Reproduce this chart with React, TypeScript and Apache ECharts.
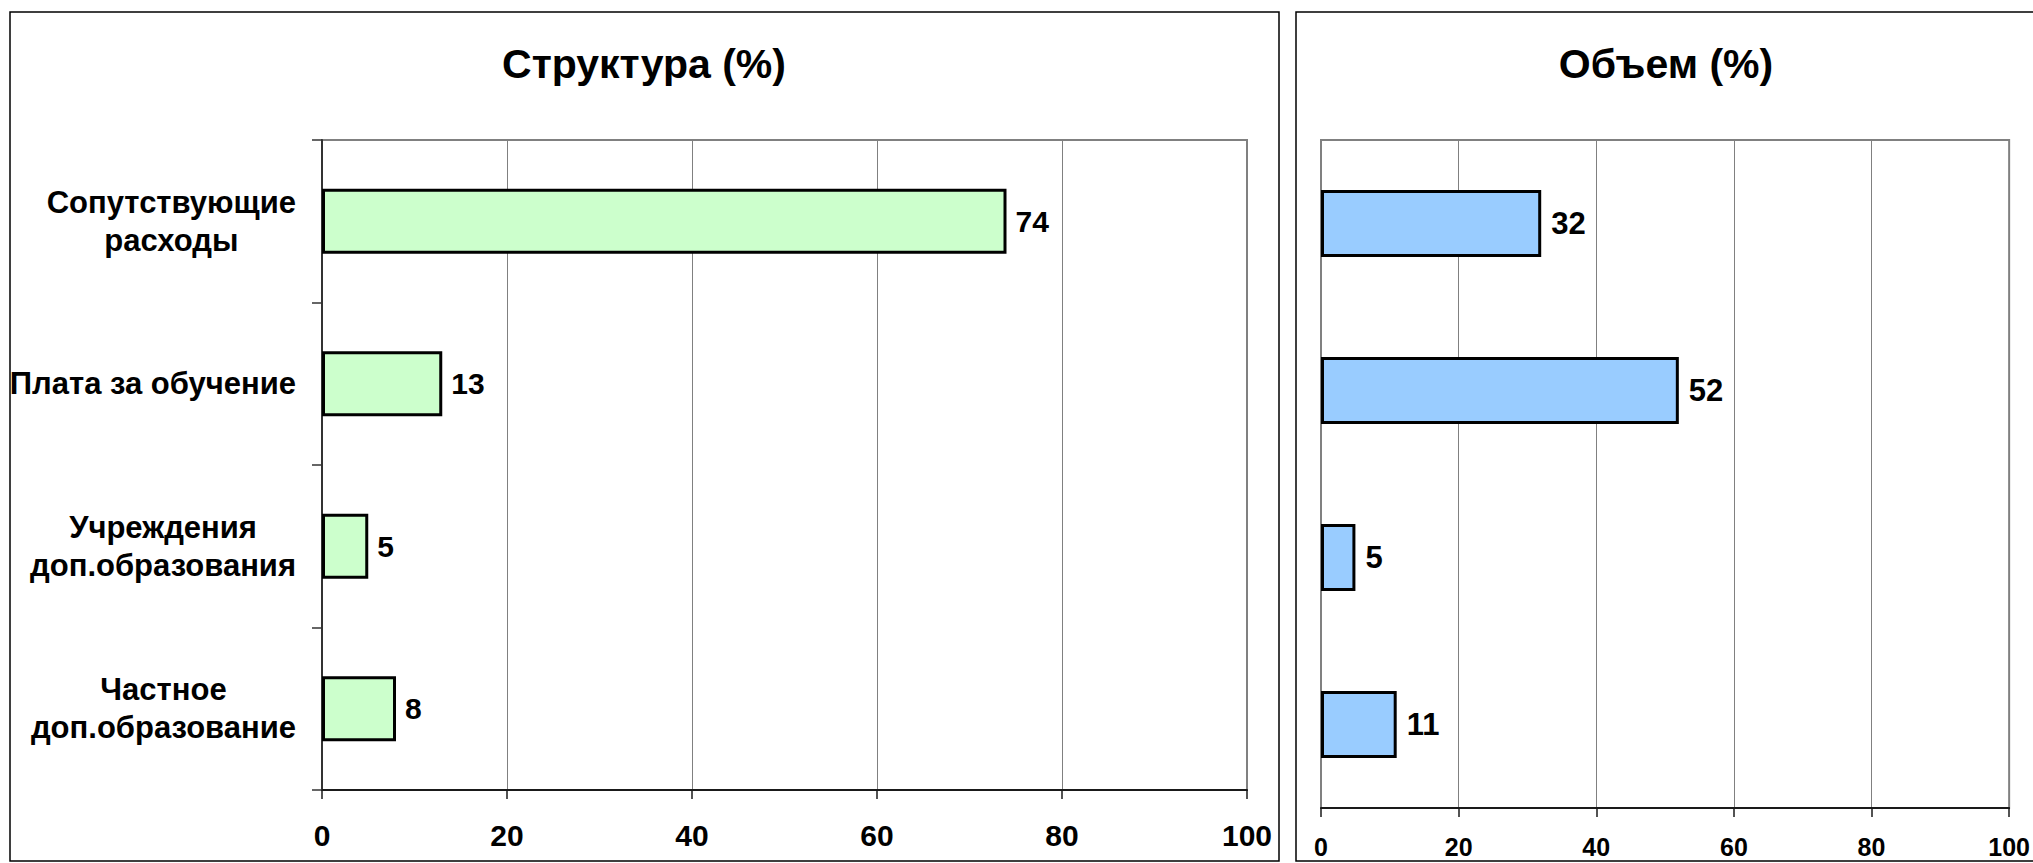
import React, { useEffect, useRef } from "react";
import * as echarts from "echarts";

const categories = [
  "Сопутствующие\nрасходы",
  "Плата за обучение",
  "Учреждения\nдоп.образования",
  "Частное\nдоп.образование",
];
const structureValues = [74, 13, 5, 8];
const volumeValues = [32, 52, 5, 11];
const leftTitle = "Структура (%)";
const rightTitle = "Объем (%)";
const axisMin = 0;
const axisMax = 100;
const axisStep = 20;

const FONT = 'Arial, "Liberation Sans", sans-serif';

export default function App() {
  const ref = useRef<HTMLDivElement>(null);
  useEffect(() => {
    if (!ref.current) return;
    const chart = echarts.init(ref.current, undefined, { renderer: "svg" });
    const xAxisBase = (labelSize: number, margin: number) => ({
      type: "value",
      min: axisMin,
      max: axisMax,
      interval: axisStep,
      axisLine: { show: true, lineStyle: { color: "#1a1a1a", width: 2 } },
      axisTick: { show: true, inside: false, length: 9, lineStyle: { color: "#1a1a1a", width: 1.5 } },
      splitLine: { show: true, lineStyle: { color: "#808080", width: 1 } },
      axisLabel: {
        fontFamily: FONT,
        fontWeight: "bold",
        fontSize: labelSize,
        color: "#000",
        margin,
      },
    });
    const option: any = {
      animation: false,
      backgroundColor: "#fff",
      textStyle: { fontFamily: FONT },
      title: [
        {
          text: leftTitle,
          left: 644,
          top: 43,
          textAlign: "center",
          padding: 0,
          textStyle: { fontFamily: FONT, fontSize: 41, fontWeight: "bold", color: "#000" },
        },
        {
          text: rightTitle,
          left: 1666,
          top: 43,
          textAlign: "center",
          padding: 0,
          textStyle: { fontFamily: FONT, fontSize: 41, fontWeight: "bold", color: "#000" },
        },
      ],
      graphic: [
        {
          type: "rect",
          shape: { x: 10, y: 12, width: 1269, height: 849 },
          style: { fill: "none", stroke: "#000", lineWidth: 1.5 },
          silent: true,
          z: -1,
        },
        {
          type: "rect",
          shape: { x: 1296, y: 12, width: 760, height: 849 },
          style: { fill: "none", stroke: "#000", lineWidth: 1.5 },
          silent: true,
          z: -1,
        },
      ],
      grid: [
        { left: 322, top: 140, width: 925, height: 650, show: true, borderColor: "#808080", borderWidth: 2, backgroundColor: "transparent" },
        { left: 1321, top: 140, width: 689, height: 668, show: true, borderColor: "#808080", borderWidth: 2, backgroundColor: "transparent" },
      ],
      xAxis: [
        { ...xAxisBase(30, 30), gridIndex: 0 },
        { ...xAxisBase(25, 26), gridIndex: 1 },
      ],
      yAxis: [
        {
          type: "category",
          gridIndex: 0,
          data: categories,
          inverse: true,
          axisLine: { show: true, lineStyle: { color: "#333", width: 2 } },
          axisTick: { show: true, inside: false, length: 10, lineStyle: { color: "#333", width: 1.5 } },
          splitLine: { show: false },
          axisLabel: {
            margin: 26,
            align: "right",
            formatter: (v: string) =>
              v
                .split("\n")
                .map((l) => `{c|${l}}`)
                .join("\n"),
            rich: {
              c: {
                align: "center",
                fontFamily: FONT,
                fontSize: 31,
                fontWeight: "bold",
                color: "#000",
                lineHeight: 38,
              },
            },
          },
        },
        {
          type: "category",
          gridIndex: 1,
          data: categories,
          inverse: true,
          axisLine: { show: true, lineStyle: { color: "#808080", width: 2 } },
          axisTick: { show: false },
          axisLabel: { show: false },
          splitLine: { show: false },
        },
      ],
      series: [
        {
          type: "bar",
          xAxisIndex: 0,
          yAxisIndex: 0,
          data: structureValues,
          barWidth: "40%",
          itemStyle: { color: "#CCFFCC", borderColor: "#000", borderWidth: 3 },
          label: {
            show: true,
            position: "right",
            distance: 9,
            fontFamily: FONT,
            fontWeight: "bold",
            fontSize: 30,
            color: "#000",
          },
        },
        {
          type: "bar",
          xAxisIndex: 1,
          yAxisIndex: 1,
          data: volumeValues,
          barWidth: "40%",
          itemStyle: { color: "#99CCFF", borderColor: "#000", borderWidth: 3 },
          label: {
            show: true,
            position: "right",
            distance: 10,
            fontFamily: FONT,
            fontWeight: "bold",
            fontSize: 31,
            color: "#000",
          },
        },
      ],
    };
    chart.setOption(option);
    return () => chart.dispose();
  }, []);
  return (
    <div
      ref={ref}
      style={{ position: "absolute", left: 0, top: 0, width: 2033, height: 863 }}
    />
  );
}
